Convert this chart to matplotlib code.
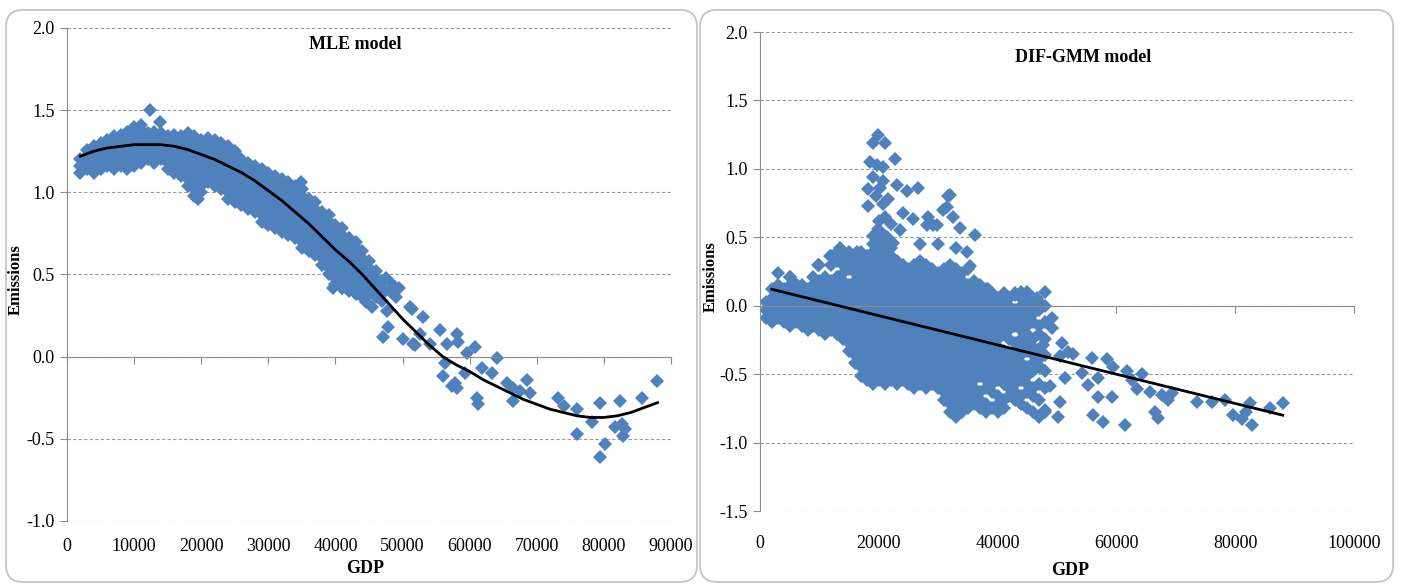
###############################################################################
# GDP x emissoes: modelo MLE (esquerda) e DIF-GMM (direita)

import numpy as np
import matplotlib
matplotlib.use('Agg')
import matplotlib.pyplot as plt
from matplotlib.patches import FancyBboxPatch

plt.rcParams['font.family'] = ['Liberation Serif', 'DejaVu Serif']
plt.rcParams['axes.unicode_minus'] = False

#%%
###############################################################################
# dados

# MLE: faixa densa, uma coluna de pontos por valor de GDP
mle_band_gdp = [2000, 3000, 4000, 5000, 6000, 7000, 8000, 9000, 10000, 11000,
                12000, 13000, 14000, 15000, 16000, 17000, 18000, 19000, 20000,
                21000, 22000, 23000, 24000, 25000, 26000, 27000, 28000, 29000,
                30000, 31000, 32000, 33000, 34000, 35000, 36000, 37000, 38000,
                39000, 40000, 41000, 42000, 43000, 44000, 45000, 46000, 47000]
mle_band_emis = [
    [1.12, 1.16, 1.20],
    [1.14, 1.18, 1.22, 1.26],
    [1.12, 1.16, 1.20, 1.24, 1.28],
    [1.14, 1.18, 1.22, 1.26, 1.30],
    [1.16, 1.20, 1.24, 1.28, 1.32],
    [1.14, 1.18, 1.22, 1.26, 1.30, 1.34],
    [1.16, 1.20, 1.24, 1.28, 1.32, 1.35],
    [1.14, 1.18, 1.22, 1.26, 1.30, 1.34, 1.37],
    [1.16, 1.20, 1.24, 1.28, 1.32, 1.36, 1.40],
    [1.18, 1.22, 1.26, 1.30, 1.34, 1.38, 1.41],
    [1.20, 1.24, 1.28, 1.32, 1.36],
    [1.18, 1.22, 1.26, 1.30, 1.34, 1.37],
    [1.20, 1.24, 1.28, 1.32, 1.36],
    [1.14, 1.18, 1.22, 1.26, 1.30, 1.34],
    [1.12, 1.16, 1.20, 1.24, 1.28, 1.32, 1.35],
    [1.10, 1.14, 1.18, 1.22, 1.26, 1.30, 1.34],
    [1.04, 1.08, 1.12, 1.16, 1.20, 1.24, 1.28, 1.32, 1.36],
    [0.98, 1.02, 1.06, 1.10, 1.14, 1.18, 1.22, 1.26, 1.30, 1.34],
    [1.00, 1.04, 1.08, 1.12, 1.16, 1.20, 1.24, 1.28, 1.32],
    [1.06, 1.10, 1.14, 1.18, 1.22, 1.26, 1.30, 1.33],
    [1.04, 1.08, 1.12, 1.16, 1.20, 1.24, 1.28, 1.32],
    [1.02, 1.06, 1.10, 1.14, 1.18, 1.22, 1.26, 1.30],
    [0.96, 1.00, 1.04, 1.08, 1.12, 1.16, 1.20, 1.24, 1.28],
    [0.94, 0.98, 1.02, 1.06, 1.10, 1.14, 1.18, 1.22, 1.25],
    [0.92, 0.96, 1.00, 1.04, 1.08, 1.12, 1.16, 1.20],
    [0.90, 0.94, 0.98, 1.02, 1.06, 1.10, 1.14, 1.18],
    [0.88, 0.92, 0.96, 1.00, 1.04, 1.08, 1.12, 1.16],
    [0.82, 0.86, 0.90, 0.94, 0.98, 1.02, 1.06, 1.10, 1.14],
    [0.80, 0.84, 0.88, 0.92, 0.96, 1.00, 1.04, 1.08, 1.12],
    [0.78, 0.82, 0.86, 0.90, 0.94, 0.98, 1.02, 1.06, 1.10],
    [0.76, 0.80, 0.84, 0.88, 0.92, 0.96, 1.00, 1.04, 1.08],
    [0.74, 0.78, 0.82, 0.86, 0.90, 0.94, 0.98, 1.02, 1.06],
    [0.72, 0.76, 0.80, 0.84, 0.88, 0.92, 0.96, 1.00, 1.04],
    [0.66, 0.70, 0.74, 0.78, 0.82, 0.86, 0.90, 0.94, 0.98, 1.02],
    [0.64, 0.68, 0.72, 0.76, 0.80, 0.84, 0.88, 0.92, 0.96],
    [0.62, 0.66, 0.70, 0.74, 0.78, 0.82, 0.86, 0.90, 0.94],
    [0.56, 0.60, 0.64, 0.68, 0.72, 0.76, 0.80, 0.84, 0.88],
    [0.50, 0.54, 0.58, 0.62, 0.66, 0.70, 0.74, 0.78, 0.82, 0.86],
    [0.44, 0.48, 0.52, 0.56, 0.60, 0.64, 0.68, 0.72, 0.76, 0.80],
    [0.42, 0.46, 0.50, 0.54, 0.58, 0.62, 0.66, 0.70, 0.74, 0.78],
    [0.40, 0.44, 0.48, 0.52, 0.56, 0.60, 0.64, 0.68, 0.72],
    [0.38, 0.42, 0.46, 0.50, 0.54, 0.58, 0.62, 0.66, 0.70],
    [0.36, 0.40, 0.44, 0.48, 0.52, 0.56, 0.60, 0.64],
    [0.38, 0.42, 0.46, 0.50, 0.54, 0.58],
    [0.36, 0.40, 0.44, 0.48, 0.52],
    [0.34, 0.38, 0.42, 0.46],
]

# MLE: pontos isolados
mle_gdp_pts = [12400, 13900, 19500, 34900, 39700, 41000, 43200, 44500, 45500,
               46000, 47500, 48500, 49500, 48100, 49100, 47700, 51100, 51400,
               53100, 52600, 47100, 47800, 50100, 51600, 51900, 54100, 55600,
               56600, 58100, 58300, 59600, 60800, 64100, 56300, 56000, 57400,
               58100, 57800, 59300, 61100, 61300, 61800, 63300, 65500, 66500,
               66500, 67500, 68500, 69000, 73200, 74000, 76000, 76000, 78200,
               79400, 80200, 79400, 81700, 82400, 82700, 82900, 83200, 85700,
               87900]
mle_emis_pts = [1.50, 1.43, 0.96, 1.06, 0.42, 0.42, 0.39, 0.33, 0.30,
                0.45, 0.48, 0.44, 0.42, 0.40, 0.36, 0.28, 0.30, 0.29,
                0.24, 0.14, 0.12, 0.18, 0.11, 0.08, 0.07, 0.08, 0.16,
                0.08, 0.14, 0.09, 0.02, 0.06, -0.01, -0.04, -0.12, -0.18,
                -0.19, -0.16, -0.10, -0.25, -0.29, -0.07, -0.10, -0.16, -0.19,
                -0.27, -0.21, -0.14, -0.22, -0.25, -0.30, -0.32, -0.47, -0.40,
                -0.28, -0.53, -0.61, -0.43, -0.27, -0.41, -0.48, -0.44, -0.25,
                -0.15]

# MLE: curva ajustada
mle_fit_gdp = [2000, 4000, 6000, 8000, 10000, 12000, 14000, 16000, 18000,
               20000, 22000, 24000, 26000, 28000, 30000, 32000, 34000, 36000,
               38000, 40000, 42000, 44000, 46000, 48000, 50000, 52000, 54000,
               56000, 58000, 60000, 62000, 64000, 66000, 68000, 70000, 72000,
               74000, 76000, 78000, 80000, 82000, 84000, 86000, 88000]
mle_fit_emis = [1.22, 1.25, 1.27, 1.28, 1.29, 1.29, 1.29, 1.28, 1.26,
                1.23, 1.20, 1.16, 1.12, 1.07, 1.01, 0.95, 0.88, 0.81,
                0.73, 0.65, 0.58, 0.50, 0.41, 0.32, 0.23, 0.15, 0.07,
                0.00, -0.05, -0.09, -0.14, -0.18, -0.22, -0.26, -0.29, -0.32,
                -0.34, -0.36, -0.37, -0.37, -0.36, -0.34, -0.31, -0.28]

# DIF-GMM: nuvem densa, uma coluna de pontos por valor de GDP
gmm_band_gdp = [1000, 2000, 3000, 4000, 5000, 6000, 7000, 8000, 9000, 10000,
                11000, 12000, 13000, 14000, 15000, 16000, 17000, 18000, 19000,
                20000, 21000, 22000, 23000, 24000, 25000, 26000, 27000, 28000,
                29000, 30000, 31000, 32000, 33000, 34000, 35000, 36000, 37000,
                38000, 39000, 40000, 41000, 42000, 43000, 44000, 45000, 46000,
                47000, 48000]
gmm_band_emis = [
    [-0.09, -0.03, 0.03],
    [-0.12, -0.06, 0.00, 0.06, 0.12],
    [-0.09, -0.03, 0.03, 0.09, 0.15],
    [-0.12, -0.06, 0.00, 0.06, 0.12],
    [-0.15, -0.09, -0.03, 0.03, 0.09, 0.15, 0.21],
    [-0.12, -0.06, 0.00, 0.06, 0.12, 0.16],
    [-0.15, -0.09, -0.03, 0.03, 0.09, 0.15],
    [-0.18, -0.12, -0.06, 0.00, 0.06, 0.12],
    [-0.15, -0.09, -0.03, 0.03, 0.09, 0.15, 0.21],
    [-0.18, -0.12, -0.06, 0.00, 0.06, 0.12, 0.18, 0.30],
    [-0.21, -0.15, -0.09, -0.03, 0.03, 0.09, 0.15, 0.21],
    [-0.18, -0.12, -0.06, 0.00, 0.06, 0.12, 0.18, 0.30, 0.36],
    [-0.21, -0.15, -0.09, -0.03, 0.03, 0.09, 0.15, 0.21, 0.33, 0.39],
    [-0.24, -0.18, -0.12, -0.06, 0.00, 0.06, 0.12, 0.18, 0.24, 0.30, 0.36],
    [-0.33, -0.27, -0.21, -0.15, -0.09, -0.03, 0.03, 0.09, 0.15, 0.27, 0.33,
     0.39],
    [-0.42, -0.36, -0.30, -0.24, -0.18, -0.12, -0.06, 0.00, 0.06, 0.12, 0.18,
     0.24, 0.30, 0.36],
    [-0.51, -0.45, -0.39, -0.33, -0.27, -0.21, -0.15, -0.09, -0.03, 0.03, 0.09,
     0.15, 0.21, 0.27, 0.33, 0.39],
    [-0.54, -0.48, -0.42, -0.36, -0.30, -0.24, -0.18, -0.12, -0.06, 0.00, 0.06,
     0.12, 0.18, 0.24, 0.30, 0.36],
    [-0.57, -0.51, -0.45, -0.39, -0.33, -0.27, -0.21, -0.15, -0.09, -0.03, 0.03,
     0.09, 0.15, 0.21, 0.27, 0.33, 0.39, 0.45, 0.51],
    [-0.54, -0.48, -0.42, -0.36, -0.30, -0.24, -0.18, -0.12, -0.06, 0.00, 0.06,
     0.12, 0.18, 0.24, 0.30, 0.36, 0.42, 0.48, 0.54],
    [-0.57, -0.51, -0.45, -0.39, -0.33, -0.27, -0.21, -0.15, -0.09, -0.03, 0.03,
     0.09, 0.15, 0.21, 0.27, 0.33, 0.39, 0.45, 0.51],
    [-0.54, -0.48, -0.42, -0.36, -0.30, -0.24, -0.18, -0.12, -0.06, 0.00, 0.06,
     0.12, 0.18, 0.24, 0.30, 0.36, 0.42],
    [-0.57, -0.51, -0.45, -0.39, -0.33, -0.27, -0.21, -0.15, -0.09, -0.03, 0.03,
     0.09, 0.15, 0.21, 0.27, 0.33],
    [-0.54, -0.48, -0.42, -0.36, -0.30, -0.24, -0.18, -0.12, -0.06, 0.00, 0.06,
     0.12, 0.18, 0.24, 0.30],
    [-0.57, -0.51, -0.45, -0.39, -0.33, -0.27, -0.21, -0.15, -0.09, -0.03, 0.03,
     0.09, 0.15, 0.21, 0.27],
    [-0.60, -0.54, -0.48, -0.42, -0.36, -0.30, -0.24, -0.18, -0.12, -0.06, 0.00,
     0.06, 0.12, 0.18, 0.24, 0.30],
    [-0.57, -0.51, -0.45, -0.39, -0.33, -0.27, -0.21, -0.15, -0.09, -0.03, 0.03,
     0.09, 0.15, 0.21, 0.27, 0.33],
    [-0.60, -0.54, -0.48, -0.42, -0.36, -0.30, -0.24, -0.18, -0.12, -0.06, 0.00,
     0.06, 0.12, 0.18, 0.24, 0.30],
    [-0.57, -0.51, -0.45, -0.39, -0.33, -0.27, -0.21, -0.15, -0.09, -0.03, 0.03,
     0.09, 0.15, 0.21, 0.27],
    [-0.60, -0.54, -0.48, -0.42, -0.36, -0.30, -0.24, -0.18, -0.12, -0.06, 0.00,
     0.06, 0.12, 0.18, 0.24],
    [-0.69, -0.63, -0.57, -0.51, -0.45, -0.39, -0.33, -0.27, -0.21, -0.15, -0.09,
     -0.03, 0.03, 0.09, 0.15, 0.21, 0.27],
    [-0.78, -0.72, -0.66, -0.60, -0.54, -0.48, -0.42, -0.36, -0.30, -0.24, -0.18,
     -0.12, -0.06, 0.00, 0.06, 0.12, 0.18, 0.24, 0.30],
    [-0.81, -0.75, -0.69, -0.63, -0.57, -0.51, -0.45, -0.39, -0.33, -0.27, -0.21,
     -0.15, -0.09, -0.03, 0.03, 0.09, 0.15, 0.21, 0.27],
    [-0.78, -0.72, -0.66, -0.60, -0.54, -0.48, -0.42, -0.36, -0.30, -0.24, -0.18,
     -0.12, -0.06, 0.00, 0.06, 0.12, 0.18, 0.24],
    [-0.75, -0.69, -0.63, -0.57, -0.51, -0.45, -0.39, -0.33, -0.27, -0.21, -0.15,
     -0.09, -0.03, 0.03, 0.09, 0.15, 0.27],
    [-0.72, -0.66, -0.60, -0.54, -0.48, -0.42, -0.36, -0.30, -0.24, -0.18, -0.12,
     -0.06, 0.00, 0.06, 0.12, 0.18],
    [-0.75, -0.69, -0.63, -0.51, -0.45, -0.39, -0.33, -0.27, -0.21, -0.15, -0.09,
     -0.03, 0.03, 0.09, 0.15],
    [-0.78, -0.72, -0.60, -0.54, -0.48, -0.42, -0.36, -0.30, -0.24, -0.18, -0.12,
     -0.06, 0.00, 0.06, 0.12],
    [-0.75, -0.63, -0.57, -0.51, -0.45, -0.39, -0.33, -0.27, -0.21, -0.15, -0.09,
     -0.03, 0.03, 0.09],
    [-0.78, -0.72, -0.66, -0.54, -0.48, -0.42, -0.36, -0.30, -0.24, -0.18, -0.12,
     -0.06, 0.00, 0.06],
    [-0.75, -0.69, -0.57, -0.51, -0.45, -0.39, -0.33, -0.21, -0.15, -0.09, -0.03,
     0.03, 0.09],
    [-0.66, -0.60, -0.54, -0.48, -0.42, -0.36, -0.24, -0.18, -0.12, -0.06, 0.00,
     0.06],
    [-0.69, -0.63, -0.57, -0.51, -0.45, -0.39, -0.33, -0.27, -0.15, -0.09, -0.03,
     0.09],
    [-0.72, -0.66, -0.54, -0.48, -0.42, -0.36, -0.30, -0.24, -0.18, -0.12, -0.06,
     0.00, 0.06, 0.10],
    [-0.75, -0.63, -0.57, -0.51, -0.45, -0.33, -0.27, -0.21, -0.15, -0.09, -0.03,
     0.03],
    [-0.78, -0.66, -0.60, -0.48, -0.42, -0.36, -0.30, -0.24, -0.12, -0.06, 0.00,
     0.06],
    [-0.81, -0.69, -0.57, -0.45, -0.39, -0.33, -0.21, -0.15, -0.03, 0.03],
    [-0.78, -0.60, -0.48, -0.36, -0.24, -0.12, 0.00, 0.10],
]

# DIF-GMM: pico acima da nuvem e pontos isolados a direita
gmm_gdp_pts = [19900, 19000, 21000, 18500, 19700, 20700, 22700, 19000, 20700,
               18200, 23000, 24700, 26600, 18200, 20700, 21500, 24100, 25800,
               28100, 29800, 31600, 30800, 32500, 19900, 21400, 22400, 32000,
               31500, 33700, 36200, 34800, 35400, 35900, 38400, 42900, 44900,
               46600, 28300, 29100, 3000, 9800, 5000, 11800, 13500, 16300,
               18500, 20000, 21000, 19500, 20200, 22000, 23500, 27000, 30000,
               33000,
               47100, 49200, 49200, 47700, 50800, 50500, 51900, 52700, 47100,
               51300, 48800, 50500, 48000, 50200, 54200, 55200, 55900, 56900,
               56900, 56100, 57700, 58400, 59300, 59500, 61400, 61700, 62600,
               63500, 64300, 65600, 66500, 67000, 67700, 68700, 69300, 73600,
               76100, 78300, 79600, 81100, 81900, 82800, 82500, 85800, 88000]
gmm_emis_pts = [1.25, 1.19, 1.19, 1.05, 1.03, 1.01, 1.07, 0.94, 0.91,
                0.85, 0.88, 0.84, 0.86, 0.73, 0.74, 0.78, 0.68, 0.63,
                0.59, 0.59, 0.80, 0.70, 0.65, 0.56, 0.50, 0.46, 0.81,
                0.72, 0.57, 0.52, 0.39, 0.29, 0.14, 0.12, 0.08, 0.10,
                0.06, 0.65, 0.59, 0.24, 0.30, 0.21, 0.36, 0.42, 0.39,
                0.34, 0.62, 0.65, 0.80, 0.86, 0.60, 0.55, 0.45, 0.45,
                0.42,
                0.02, -0.09, -0.16, -0.29, -0.27, -0.37, -0.34, -0.35, -0.45,
                -0.53, -0.59, -0.70, -0.76, -0.81, -0.49, -0.58, -0.38, -0.53,
                -0.67, -0.80, -0.85, -0.39, -0.67, -0.45, -0.87, -0.48, -0.54,
                -0.61, -0.50, -0.63, -0.78, -0.82, -0.65, -0.69, -0.64, -0.70,
                -0.70, -0.69, -0.80, -0.83, -0.78, -0.87, -0.71, -0.75, -0.71]

# DIF-GMM: reta ajustada
gmm_fit_gdp = [2000, 88000]
gmm_fit_emis = [0.12, -0.80]

#%%
###############################################################################
# funcoes

azul = '#4F81BD'
cinza = '#8c8c8c'
tam = 7.2  # tamanho do losango

# abre as colunas em listas x, y
def espalha(gdp_cols, emis_cols):
    x, y = [], []
    for g, col in zip(gdp_cols, emis_cols):
        x += [g] * len(col)
        y += col
    return x, y

# monta um painel no estilo do excel
def painel(ax, titulo, tit_xy, xmax, xstep, ymin, ylab_xy, xlab_xy, xpad):
    ax.set_xlim(0, xmax)
    ax.set_ylim(ymin, 2.0)
    xt = np.arange(0, xmax + 1, xstep)
    ax.set_xticks(xt)
    ax.set_yticks(np.arange(ymin, 2.01, 0.5))
    ax.yaxis.set_major_formatter('{x:.1f}')

    # eixo horizontal passa no zero, rotulos embaixo
    for s in ['top', 'right']:
        ax.spines[s].set_visible(False)
    ax.spines['bottom'].set_position(('data', 0))
    ax.spines['bottom'].set_color(cinza)
    ax.spines['left'].set_color(cinza)
    ax.tick_params(axis='x', direction='out', length=5, color=cinza,
                   labelbottom=False)
    ax.tick_params(axis='y', direction='out', length=5, color=cinza,
                   labelsize=13, pad=4)

    sec = ax.secondary_xaxis('bottom')
    sec.set_xticks(xt)
    sec.xaxis.set_major_formatter('{x:.0f}')
    sec.spines['bottom'].set_visible(False)
    sec.tick_params(length=0, pad=xpad, labelsize=13)

    ax.yaxis.grid(True, linestyle=(0, (3, 2)), color='#9a9a9a', lw=0.8)
    ax.set_axisbelow(True)

    ax.text(tit_xy[0], tit_xy[1], titulo, transform=ax.transAxes,
            ha='center', va='center', fontsize=13, fontweight='bold')
    ax.set_ylabel('Emissions', fontsize=12, fontweight='bold')
    ax.yaxis.set_label_coords(*ylab_xy)
    ax.set_xlabel('GDP', fontsize=13, fontweight='bold')
    ax.xaxis.set_label_coords(*xlab_xy)

#%%
###############################################################################
# figura

fig = plt.figure(figsize=(14.04, 5.84), dpi=100)

# molduras arredondadas
for x0, x1 in [(0.0043, 0.4964), (0.4986, 0.9922)]:
    fig.patches.append(FancyBboxPatch(
        (x0, 0.0035), x1 - x0, 0.9795,
        boxstyle='round,pad=0,rounding_size=0.012',
        mutation_aspect=1404 / 584,
        transform=fig.transFigure, fc='none', ec='#c4c4c4', lw=1.3))

ax1 = fig.add_axes([0.0477, 0.1079, 0.4302, 0.8442])
ax2 = fig.add_axes([0.5413, 0.1250, 0.4231, 0.8202])

# painel MLE
x, y = espalha(mle_band_gdp, mle_band_emis)
ax1.plot(x, y, 'D', color=azul, ms=tam, mew=0, zorder=2)
ax1.plot(mle_gdp_pts, mle_emis_pts, 'D', color=azul, ms=tam, mew=0, zorder=2)
ax1.plot(mle_fit_gdp, mle_fit_emis, '-', color='black', lw=2, zorder=3)
painel(ax1, 'MLE model', (0.477, 0.966), 90000, 10000, -1.0,
       (-0.071, 0.489), (0.493, -0.079), 12)

# painel DIF-GMM
x, y = espalha(gmm_band_gdp, gmm_band_emis)
ax2.plot(x, y, 'D', color=azul, ms=tam, mew=0, zorder=2)
ax2.plot(gmm_gdp_pts, gmm_emis_pts, 'D', color=azul, ms=tam, mew=0, zorder=2)
ax2.plot(gmm_fit_gdp, gmm_fit_emis, '-', color='black', lw=2, zorder=3)
painel(ax2, 'DIF-GMM model', (0.544, 0.946), 100000, 20000, -1.5,
       (-0.069, 0.49), (0.522, -0.106), 17)

fig.savefig('out.png', dpi=100)
